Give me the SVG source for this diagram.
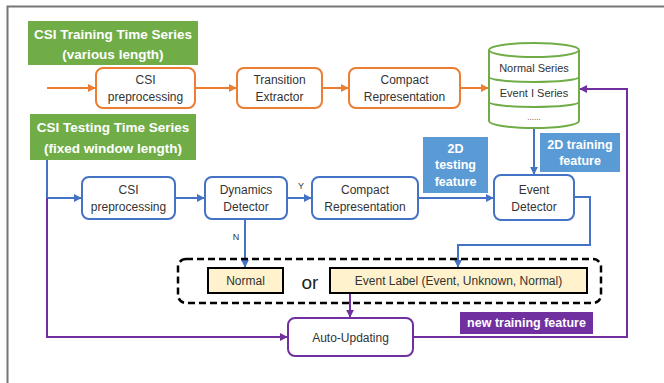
<svg xmlns="http://www.w3.org/2000/svg" width="664" height="383" viewBox="0 0 664 383">
<defs>
<style>
text{font-family:"Liberation Sans",Arial,sans-serif;font-size:12px;fill:#333;text-anchor:middle}
.t{font-weight:bold;font-size:13.5px;fill:#fff}
.lb{font-weight:bold;font-size:12.5px;fill:#fff}
.or{fill:#fff;stroke:#ed7d31;stroke-width:2}
.bl{fill:#fff;stroke:#4472c4;stroke-width:2}
.pu{fill:#fff;stroke:#7030a0;stroke-width:2}
.lab{fill:#fff2cc;stroke:#000;stroke-width:2}
.co{fill:none;stroke:#ed7d31;stroke-width:2}
.cb{fill:none;stroke:#4472c4;stroke-width:2}
.cp{fill:none;stroke:#7030a0;stroke-width:2}
</style>
<marker id="ao" viewBox="0 0 10 10" refX="9" refY="5" markerWidth="4" markerHeight="4" orient="auto"><path d="M0,0L10,5L0,10z" fill="#ed7d31"/></marker>
<marker id="ab" viewBox="0 0 10 10" refX="9" refY="5" markerWidth="4" markerHeight="4" orient="auto"><path d="M0,0L10,5L0,10z" fill="#4472c4"/></marker>
<marker id="ap" viewBox="0 0 10 10" refX="9" refY="5" markerWidth="4" markerHeight="4" orient="auto"><path d="M0,0L10,5L0,10z" fill="#7030a0"/></marker>
</defs>
<rect width="664" height="383" fill="#fff"/>
<path d="M7.5,383V6.5H664" fill="none" stroke="#767676" stroke-width="2"/>

<g id="connectors">
<path class="co" d="M47,88H95" marker-end="url(#ao)"/>
<path class="co" d="M195,88H236" marker-end="url(#ao)"/>
<path class="co" d="M322,88H348" marker-end="url(#ao)"/>
<path class="co" d="M460,88H488" marker-end="url(#ao)"/>
<path class="cb" d="M47,160V198H81" marker-end="url(#ab)"/>
<path class="cb" d="M175,198H204" marker-end="url(#ab)"/>
<path class="cb" d="M287,198H311" marker-end="url(#ab)"/>
<path class="cb" d="M418,198H493" marker-end="url(#ab)"/>
<path class="cb" d="M534,128V174" marker-end="url(#ab)"/>
<path class="cb" d="M245,219V267" marker-end="url(#ab)"/>
<path class="cb" d="M574,197H590V245H458V267" marker-end="url(#ab)"/>
<path class="cp" d="M47,198V337H287" marker-end="url(#ap)"/>
<path class="cp" d="M350,293V317" marker-end="url(#ap)"/>
<path class="cp" d="M413,337H627V89H580" marker-end="url(#ap)"/>
<text x="301" y="189" style="font-size:9px">Y</text>
<text x="236" y="240" style="font-size:9px">N</text>
</g>

<g id="train-title"><rect x="28" y="21" width="170" height="44" fill="#70ad47"/>
<text class="t" x="113" y="39">CSI Training Time Series</text>
<text class="t" x="113" y="59">(various length)</text></g>

<g id="csi-pre-train"><rect class="or" x="96" y="68" width="99" height="40" rx="7"/>
<text x="145.5" y="84">CSI</text><text x="145.5" y="101">preprocessing</text></g>

<g id="transition"><rect class="or" x="237" y="68" width="85" height="40" rx="7"/>
<text x="279.5" y="84">Transition</text><text x="279.5" y="101">Extractor</text></g>

<g id="compact-train"><rect class="or" x="349" y="68" width="111" height="40" rx="7"/>
<text x="404.5" y="84">Compact</text><text x="404.5" y="101">Representation</text></g>

<g id="database">
<path d="M489,50V121A45,7 0 0 0 579,121V50" fill="#fff" stroke="#70ad47" stroke-width="2"/>
<ellipse cx="534" cy="50" rx="45" ry="7" fill="#fff" stroke="#70ad47" stroke-width="2"/>
<path d="M489,77A45,5 0 0 0 579,77M489,102A45,5 0 0 0 579,102" fill="none" stroke="#70ad47" stroke-width="2"/>
<text x="534" y="72" style="font-size:11px">Normal Series</text>
<text x="534" y="97" style="font-size:11px">Event I Series</text>
<text x="534" y="120" style="font-size:8px">......</text>
</g>

<g id="test-title"><rect x="30" y="114" width="166" height="46" fill="#70ad47"/>
<text class="t" x="113" y="132">CSI Testing Time Series</text>
<text class="t" x="113" y="153">(fixed window length)</text></g>

<g id="csi-pre-test"><rect class="bl" x="82" y="177" width="93" height="42" rx="7"/>
<text x="128.5" y="194">CSI</text><text x="128.5" y="211">preprocessing</text></g>

<g id="dynamics"><rect class="bl" x="205" y="177" width="82" height="42" rx="7"/>
<text x="246" y="194">Dynamics</text><text x="246" y="211">Detector</text></g>

<g id="compact-test"><rect class="bl" x="312" y="177" width="106" height="42" rx="7"/>
<text x="365" y="194">Compact</text><text x="365" y="211">Representation</text></g>

<g id="testing-feature"><rect x="423" y="137" width="65" height="56" fill="#5b9bd5"/>
<text class="lb" x="455.5" y="153">2D</text><text class="lb" x="455.5" y="169">testing</text><text class="lb" x="455.5" y="186">feature</text></g>

<g id="training-feature"><rect x="540" y="133" width="80" height="39" fill="#5b9bd5"/>
<text class="lb" x="580" y="149">2D training</text><text class="lb" x="580" y="165">feature</text></g>

<g id="event-detector"><rect class="bl" x="494" y="175" width="80" height="45" rx="7"/>
<text x="534" y="194">Event</text><text x="534" y="211">Detector</text></g>

<g id="result"><rect x="178" y="259" width="423" height="44" rx="8" fill="none" stroke="#000" stroke-width="2.5" stroke-dasharray="7,4"/>
<text x="310" y="289" style="font-size:19px;fill:#222">or</text></g>

<g id="normal"><rect class="lab" x="208" y="268" width="75" height="25"/>
<text x="245.5" y="285">Normal</text></g>

<g id="event-label"><rect class="lab" x="330" y="268" width="257" height="25"/>
<text x="458.5" y="285">Event Label (Event, Unknown, Normal)</text></g>

<g id="auto-updating"><rect class="pu" x="288" y="318" width="125" height="38" rx="7"/>
<text x="350.5" y="342">Auto-Updating</text></g>

<g id="new-feature"><rect x="460" y="312" width="133" height="22" fill="#7030a0"/>
<text class="lb" x="526.5" y="327">new training feature</text></g>
</svg>
